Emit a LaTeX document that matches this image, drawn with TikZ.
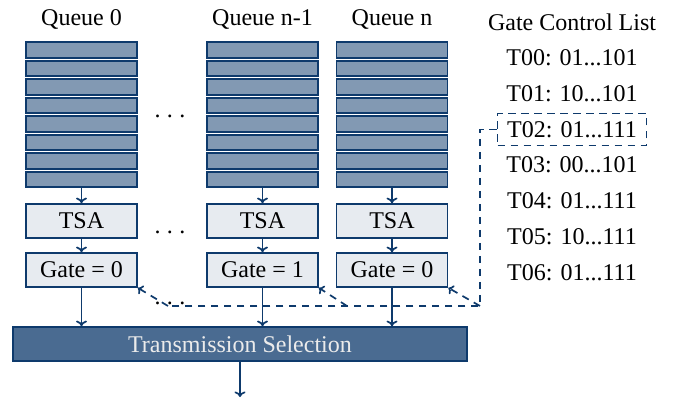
\documentclass[tikz,border=0pt]{standalone}
\usepackage{fontspec}
\setmainfont{Liberation Serif}
\usetikzlibrary{positioning,arrows.meta}
\definecolor{tsnblue}{RGB}{14,58,108}
\newcommand{\gapdots}{.\kern3.2pt.\kern3.2pt.}
\tikzset{
  slot/.style={draw=tsnblue, fill=tsnblue!52, line width=0.9pt, minimum width=55.5pt, minimum height=7.85pt, inner sep=0pt},
  ctrl/.style={draw=tsnblue, fill=tsnblue!10, line width=0.8pt, minimum width=55.5pt, minimum height=17pt, inner sep=0pt},
  selbox/.style={draw=tsnblue, fill=tsnblue!75, text=white!92!black, line width=0.8pt, minimum width=227pt, minimum height=17pt},
  gclentry/.style={minimum width=74.5pt, minimum height=16pt, inner sep=0pt},
  flow/.style={-{To[length=2.8pt,width=5.5pt]}, draw=tsnblue, line width=0.85pt},
  fbline/.style={draw=tsnblue, line width=0.85pt, dash pattern=on 3.6pt off 2.9pt},
}
\begin{document}
\begin{tikzpicture}[x=0.5pt, y=-0.5pt, node distance=17.85pt, on grid, font=\rmfamily\fontsize{12}{14}\selectfont]
  \useasboundingbox (0,0) rectangle (674,398);
  % queues, TSA and gates
  \foreach \q/\x/\lab/\g in {a/81.5/Queue 0/0, b/262.5/Queue n-1/1, c/392/Queue n/0} {
    \node (\q-lab) at (\x,19) {\lab};
    \foreach \i in {1,...,8}
      \node[slot] (\q-\i) at (\x,{50+18.5*(\i-1)}) {};
    \node[ctrl, below=20.75pt of \q-8] (\q-tsa) {TSA};
    \node[ctrl, below=24.5pt of \q-tsa] (\q-gate) {Gate = \g};
    \draw[flow] (\q-8) -- (\q-tsa);
    \draw[flow] (\q-tsa) -- (\q-gate);
  }
  \node (dots-1) at (170,116) {\gapdots};
  \node (dots-2) at (170,232) {\gapdots};
  \node (dots-3) at (170,303) {\gapdots};
  % transmission selection
  \node[selbox] (ts) at (240,344) {Transmission Selection};
  \coordinate (out) at (240,397);
  \foreach \q in {a,b,c}
    \draw[flow] (\q-gate) -- (\q-gate |- ts.north);
  \draw[flow] (ts) -- (out);
  % gate control list
  \node (gcl) at (572,22) {Gate Control List};
  \node[gclentry, below=18pt of gcl] (t00) {T00: 01...101};
  \node[gclentry, below=of t00] (t01) {T01: 10...101};
  \node[gclentry, below=of t01, fbline] (t02) {T02: 01...111};
  \node[gclentry, below=of t02] (t03) {T03: 00...101};
  \node[gclentry, below=of t03] (t04) {T04: 01...111};
  \node[gclentry, below=of t04] (t05) {T05: 10...111};
  \node[gclentry, below=of t05] (t06) {T06: 01...111};
  % feedback to the gates
  \coordinate (fb-a) at (168,306);
  \coordinate (fb-b) at (347,306);
  \coordinate (fb-c) at (480,306);
  \draw[fbline] (t02.west) -- (t02.west -| fb-c) -- (fb-c) -- (fb-a);
  \draw[fbline, -{To[length=2.4pt,width=5pt]}] (fb-a) -- (a-gate.south east);
  \draw[fbline, -{To[length=2.4pt,width=5pt]}] (fb-b) -- (b-gate.south east);
  \draw[fbline, -{To[length=2.4pt,width=5pt]}] (fb-c) -- (c-gate.south east);
\end{tikzpicture}
\end{document}
